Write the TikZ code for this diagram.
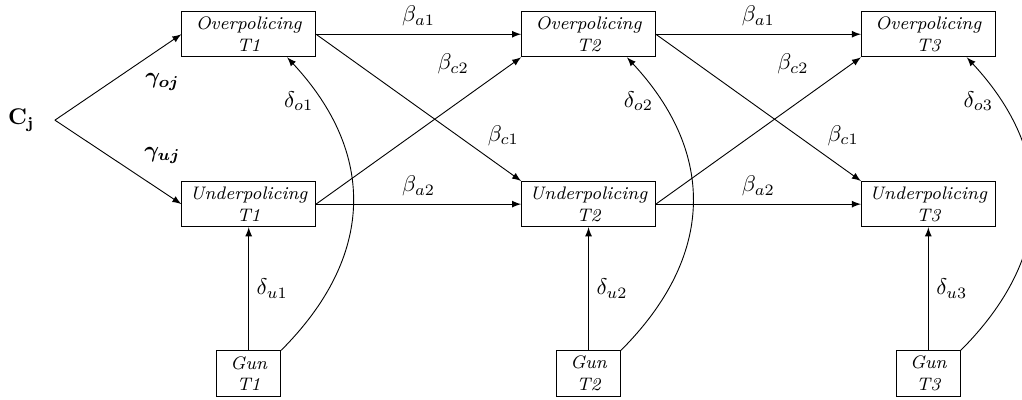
\documentclass[tikz,border=0pt]{standalone}
\usepackage{amsmath,amssymb,bm}
\usepackage{xcolor}
\usepackage{tikz}
\usetikzlibrary{positioning,arrows.meta,calc}

\tikzset{
  varbox/.style={draw, minimum width=2.07cm, minimum height=0.7cm, align=center, inner sep=1pt, font=\fontsize{8}{9.5}\selectfont\itshape},
  gunbox/.style={varbox, minimum width=0.99cm},
  link/.style={-latex}
}

\begin{document}
\begin{tikzpicture}
\useasboundingbox (0,0) rectangle (15.82,6.18);
\clip (0,0) rectangle (15.82,6.18);
% one column of variables per wave
\foreach \t/\x in {1/3.85, 2/9.11, 3/14.37} {
  \node[varbox] (over\t) at (\x,5.65) {Overpolicing\\T\t};
  \node[varbox] (under\t) at (\x,3.02) {Underpolicing\\T\t};
  \node[gunbox] (gun\t) at (\x,0.40) {Gun\\T\t};
}
\coordinate (split) at (0.85,4.32);
\node[inner sep=0pt, left=0.31cm of split] (cj) {$\mathbf{C_j}$};
\draw[link] (split) -- node[pos=0.85, yshift=-0.54cm] {$\boldsymbol{\gamma_{oj}}$} (over1.west);
\draw[link] (split) -- node[pos=0.85, yshift=0.56cm] {$\boldsymbol{\gamma_{uj}}$} (under1.west);
% autoregressive and cross-lagged paths
\foreach \a/\b in {1/2, 2/3} {
  \draw[link] (over\a.east) -- node[midway, above] {$\beta_{a1}$} (over\b.west);
  \draw[link] (under\a.east) -- node[midway, above] {$\beta_{a2}$} (under\b.west);
  \draw[link] (over\a.east) -- node[pos=0.85, xshift=0.2cm, yshift=0.36cm] {$\beta_{c1}$} (under\b.north west);
  \draw[link] (under\a.east) -- node[pos=0.75, xshift=-0.26cm, yshift=0.46cm] {$\beta_{c2}$} (over\b.south west);
}
% gun effects within each wave
\foreach \t in {1,2,3} {
  \draw[link] (gun\t.north) -- node[right] {$\delta_{u\t}$} (under\t.south);
  \draw[link] (gun\t.north east) to[out=45, in=-47, looseness=1.15] node[pos=0.85, left] {$\delta_{o\t}$} (over\t.-31);
}
\end{tikzpicture}
\end{document}
